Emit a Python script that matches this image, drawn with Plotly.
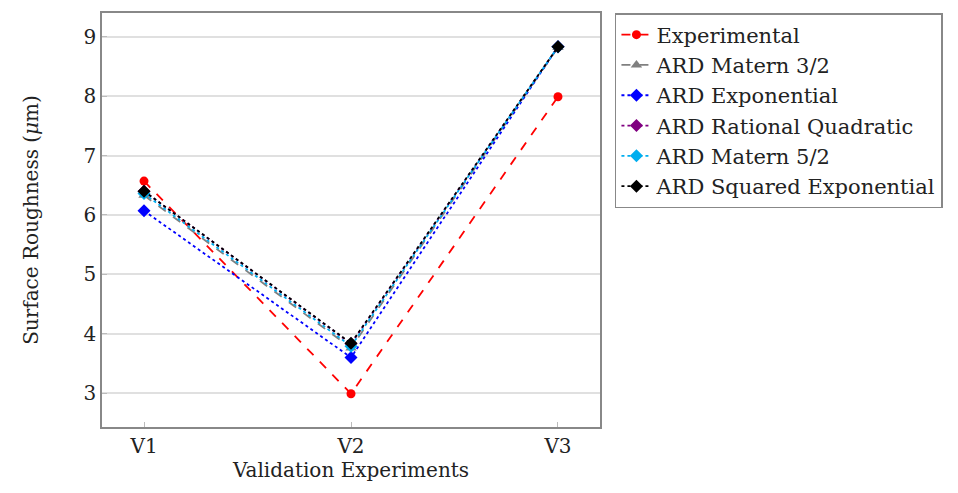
import plotly.graph_objects as go

experiments = ["V1", "V2", "V3"]
experimental = [6.57, 2.99, 7.99]
matern32 = [6.33, 3.76, 8.82]
exponential = [6.07, 3.60, 8.83]
rational_quadratic = [6.40, 3.83, 8.83]
matern52 = [6.36, 3.79, 8.83]
squared_exp = [6.40, 3.84, 8.83]

series = [
    ("Experimental", experimental, "#ff0000", "dash", "circle"),
    ("ARD Matern 3/2", matern32, "#808080", "dash", "triangle-up"),
    ("ARD Exponential", exponential, "#0000ff", "dot", "diamond"),
    ("ARD Rational Quadratic", rational_quadratic, "#800080", "dot", "diamond"),
    ("ARD Matern 5/2", matern52, "#00aeef", "dot", "diamond"),
    ("ARD Squared Exponential", squared_exp, "#000000", "dot", "diamond"),
]

FONT = "DejaVu Serif"

fig = go.Figure()
for i, (name, vals, color, dash, sym) in enumerate(series):
    fig.add_trace(go.Scatter(
        x=[0, 1, 2], y=vals, name=name, mode="lines+markers",
        legendgroup=f"g{i}",
        line=dict(color=color, dash=dash, width=1.8),
        marker=dict(color=color, symbol=sym, size=10 if sym != "circle" else 9),
    ))

fig.update_layout(
    width=958, height=493,
    margin=dict(l=94, r=366, t=3, b=74),
    plot_bgcolor="white", paper_bgcolor="white",
    font=dict(family=FONT, size=19, color="#222"),
    legend=dict(
        x=1.03, y=1, xanchor="left", yanchor="top",
        bordercolor="#888", borderwidth=1.5,
        font=dict(family=FONT, size=21, color="#222"),
        traceorder="grouped", tracegroupgap=0, itemwidth=30,
    ),
    xaxis=dict(
        range=[-0.203, 2.203],
        tickmode="array", tickvals=[0, 1, 2], ticktext=experiments,
        tickfont=dict(family=FONT, size=20),
        showgrid=False, zeroline=False,
        showline=True, linecolor="#888", linewidth=1.5, mirror=True,
        ticks="inside", ticklen=5, tickcolor="#bbb",
        title=dict(text="Validation Experiments", standoff=6,
                   font=dict(family=FONT, size=20)),
    ),
    yaxis=dict(
        range=[2.43, 9.40],
        tickvals=[3, 4, 5, 6, 7, 8, 9],
        tickfont=dict(family=FONT, size=20),
        showgrid=True, gridcolor="#e0e0e0", gridwidth=1.5, zeroline=False,
        showline=True, linecolor="#888", linewidth=1.5, mirror=True,
        ticks="inside", ticklen=5, tickcolor="#bbb",
        title=dict(text="Surface Roughness (<i>μ</i>m)", standoff=40,
                   font=dict(family=FONT, size=20)),
    ),
)

fig.write_html("out.html")
